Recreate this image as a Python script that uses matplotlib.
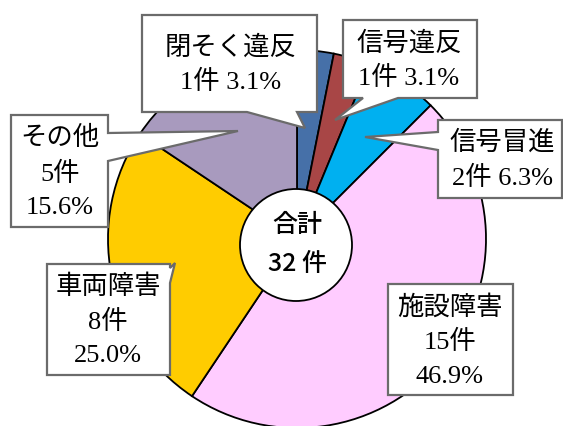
"""
事故原因別件数（合計32件）の円グラフ、吹き出しラベル付き。
"""
import matplotlib
matplotlib.use("Agg")
import matplotlib.pyplot as plt
from matplotlib.patches import Polygon, Circle

NAMES = ["閉そく違反", "信号違反", "信号冒進", "施設障害", "車両障害", "その他"]
COUNTS = [1, 1, 2, 15, 8, 5]
PERCENTS = ["3.1", "3.1", "6.3", "46.9", "25.0", "15.6"]
TOTAL_LABEL = ["合計", "32 件"]

COLORS = ["#4670A8", "#A84646", "#00B0F0", "#FFCCFF", "#FFCC00", "#A89ABE"]

W, H = 563, 426
SERIF = ["Liberation Serif", "Noto Sans CJK JP"]
SANS = ["Noto Sans CJK JP", "DejaVu Sans"]

fig = plt.figure(figsize=(W / 100, H / 100), dpi=100)
ax = fig.add_axes([0, 0, 1, 1])

# pie (pixel coords, y measured from top converted below)
def Y(py):
    return H - py

ax.pie(COUNTS, colors=COLORS, startangle=90, counterclock=False,
       center=(297, Y(239)), radius=189,
       wedgeprops=dict(edgecolor="black", linewidth=1.3))

ax.add_patch(Circle((296, Y(245)), 56, facecolor="white",
                    edgecolor="black", linewidth=1.3, zorder=5))
ax.text(297, Y(225), TOTAL_LABEL[0], ha="center", va="center",
        fontsize=18, family=SANS, fontweight="medium", zorder=6)
ax.text(297, Y(264), TOTAL_LABEL[1], ha="center", va="center",
        fontsize=18, family=SANS, fontweight="medium", zorder=6)


def callout(x0, y0, x1, y1, side=None, base=None, tip=None):
    """box (pixel coords, y down) with a triangular pointer on one side"""
    pts = [(x0, y0), (x1, y0)]
    if side == "right":
        pts += [(x1, base[0]), tip, (x1, base[1])]
    pts += [(x1, y1)]
    if side == "bottom":
        pts += [(base[1], y1), tip, (base[0], y1)]
    pts += [(x0, y1)]
    if side == "left":
        pts += [(x0, base[1]), tip, (x0, base[0])]
    pts = [(x, Y(y)) for x, y in pts]
    ax.add_patch(Polygon(pts, closed=True, facecolor="white",
                         edgecolor="#6B6B6B", linewidth=1.6, zorder=7))


# layout of each label: box, pointer, text centre x, line y positions
LAYOUT = [
    dict(box=(142, 15, 317, 112), side="bottom", base=(247, 297), tip=(305, 128),
         cx=231, ys=[47, 82]),
    dict(box=(343, 20, 477, 98), side="bottom", base=(363, 398), tip=(335, 120),
         cx=409, ys=[43, 78]),
    dict(box=(438, 120, 562, 198), side="left", base=(132, 150), tip=(365, 137),
         cx=502, ys=[142, 178]),
    dict(box=(388, 284, 513, 395), side=None, base=None, tip=None,
         cx=450, ys=[307, 342, 377]),
    dict(box=(47, 264, 170, 375), side="right", base=(268, 283), tip=(175, 263),
         cx=108, ys=[287, 322, 356]),
    dict(box=(11, 115, 108, 227), side="right", base=(133, 161), tip=(238, 131),
         cx=60, ys=[138, 174, 208]),
]

for name, n, p, lay in zip(NAMES, COUNTS, PERCENTS, LAYOUT):
    callout(*lay["box"], side=lay["side"], base=lay["base"], tip=lay["tip"])
    if len(lay["ys"]) == 2:
        lines = [name, f"{n}件 {p}%"]
    else:
        lines = [name, f"{n}件", f"{p}%"]
    for txt, yy in zip(lines, lay["ys"]):
        ax.text(lay["cx"], Y(yy), txt, ha="center", va="center",
                fontsize=19, family=SERIF, zorder=8)

ax.set_xlim(0, W)
ax.set_ylim(0, H)
ax.axis("off")

fig.savefig("out.png", dpi=100)
